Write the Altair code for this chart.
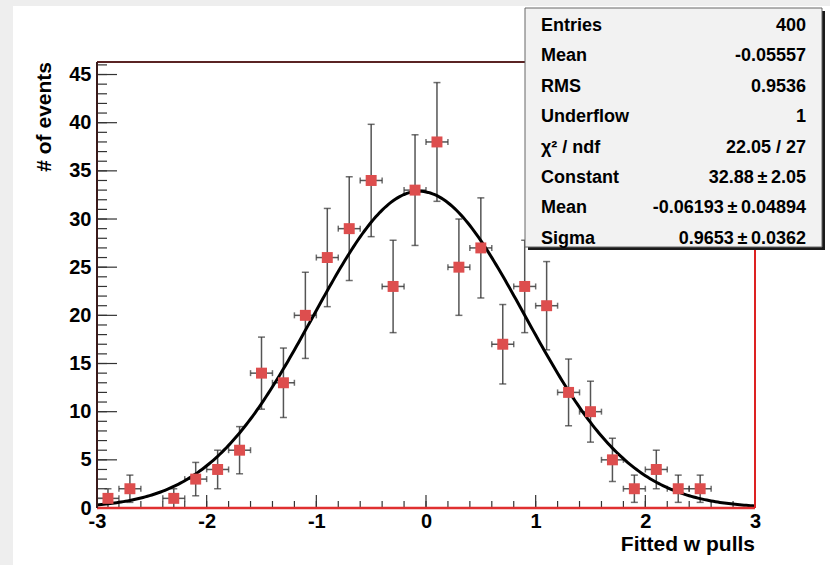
import altair as alt
import pandas as pd
import numpy as np

# ---- data ----
bin_centers = [-2.9, -2.7, -2.3, -2.1, -1.9, -1.7, -1.5, -1.3, -1.1, -0.9, -0.7, -0.5,
               -0.3, -0.1, 0.1, 0.3, 0.5, 0.7, 0.9, 1.1, 1.3, 1.5, 1.7, 1.9, 2.1, 2.3, 2.5]
counts = [1, 2, 1, 3, 4, 6, 14, 13, 20, 26, 29, 34,
          23, 33, 38, 25, 27, 17, 23, 21, 12, 10, 5, 2, 4, 2, 2]
bin_half_width = 0.1

# Gaussian fit parameters (from the stats box)
fit_constant = 32.88
fit_mean = -0.06193
fit_sigma = 0.9653

stat_labels = ["Entries", "Mean", "RMS", "Underflow", "\u03c7\u00b2 / ndf", "Constant", "Mean", "Sigma"]
stat_values = ["400", "-0.05557", "0.9536", "1", "22.05 / 27", "32.88\u2009\u00b1\u20092.05",
               "-0.06193\u2009\u00b1\u20090.04894", "0.9653\u2009\u00b1\u20090.0362"]

x_labels = [-3, -2, -1, 0, 1, 2, 3]
y_labels = [0, 5, 10, 15, 20, 25, 30, 35, 40, 45]
x_minor = [round(-3 + 0.2 * i, 1) for i in range(31)]
y_minor = list(range(0, 47))

# ---- tables ----
pts = pd.DataFrame({"x": bin_centers, "n": counts})
pts["err"] = np.sqrt(pts["n"])
pts["lo"] = pts["n"] - pts["err"]
pts["hi"] = pts["n"] + pts["err"]
pts["xl"] = pts["x"] - bin_half_width
pts["xr"] = pts["x"] + bin_half_width

xs = np.linspace(-3, 3, 301)
curve = pd.DataFrame({"x": xs, "y": fit_constant * np.exp(-0.5 * ((xs - fit_mean) / fit_sigma) ** 2)})

W, H = 658, 446
FONT = "Liberation Sans"

xscale = alt.Scale(domain=[-3, 3], nice=False, zero=False)
yscale = alt.Scale(domain=[0, 46.3], nice=False, zero=False)
xaxis = alt.Axis(values=x_labels, ticks=False, domain=False, grid=False, labelFontSize=20,
                 labelFontWeight="bold", labelPadding=3, labelColor="black", labelFont=FONT,
                 labelFlush=False, labelOverlap=False, zindex=5, labelExpr="'' + datum.value")
yaxis = alt.Axis(values=y_labels, ticks=False, domain=False, grid=False, labelFontSize=20,
                 labelFontWeight="bold", labelPadding=6, labelColor="black", labelFont=FONT,
                 labelFlush=False, labelOverlap=False, zindex=5)


def X(f):
    return alt.X(f, scale=xscale, axis=xaxis, title=None)


def Y(f):
    return alt.Y(f, scale=yscale, axis=yaxis, title=None)


one = pd.DataFrame({"a": [0]})

# white page area
page = alt.Chart(one).mark_rect(fill="white").encode(
    x=alt.value(-84), x2=alt.value(733), y=alt.value(-56), y2=alt.value(H + 57))

# tick marks (inward)
xt_major = alt.Chart(pd.DataFrame({"v": x_labels})).mark_rule(color="#333", strokeWidth=1.2).encode(
    x=X("v:Q"), y=alt.value(H), y2=alt.value(H - 13))
xt_minor = alt.Chart(pd.DataFrame({"v": x_minor})).mark_rule(color="#333", strokeWidth=1.2).encode(
    x=X("v:Q"), y=alt.value(H), y2=alt.value(H - 7))
yt_major = alt.Chart(pd.DataFrame({"v": y_labels})).mark_rule(color="#333", strokeWidth=1.2).encode(
    y=Y("v:Q"), x=alt.value(0), x2=alt.value(20))
yt_minor = alt.Chart(pd.DataFrame({"v": y_minor})).mark_rule(color="#333", strokeWidth=1.2).encode(
    y=Y("v:Q"), x=alt.value(0), x2=alt.value(10))

# frame
frame_top = alt.Chart(one).mark_rule(color="#5a2424", strokeWidth=2).encode(
    x=alt.value(0), x2=alt.value(W), y=alt.value(0))
frame_left = alt.Chart(one).mark_rule(color="#3a1a1a", strokeWidth=2).encode(
    x=alt.value(0), y=alt.value(0), y2=alt.value(H))
frame_right = alt.Chart(one).mark_rule(color="#dd2222", strokeWidth=2).encode(
    x=alt.value(W), y=alt.value(0), y2=alt.value(H))
frame_bottom = alt.Chart(one).mark_rule(color="#e03030", strokeWidth=2.5).encode(
    x=alt.value(0), x2=alt.value(W), y=alt.value(H))

# error bars
ebase = alt.Chart(pts)
vbar = ebase.mark_rule(color="#555555", strokeWidth=1.5).encode(x=X("x:Q"), y=Y("lo:Q"), y2="hi:Q")
hbar = ebase.mark_rule(color="#555555", strokeWidth=1.5).encode(y=Y("n:Q"), x=X("xl:Q"), x2="xr:Q")
cap_lo = ebase.mark_tick(color="#333333", thickness=1.5, size=7, orient="horizontal").encode(x=X("x:Q"), y=Y("lo:Q"))
cap_hi = ebase.mark_tick(color="#333333", thickness=1.5, size=7, orient="horizontal").encode(x=X("x:Q"), y=Y("hi:Q"))
cap_l = ebase.mark_tick(color="#333333", thickness=1.5, size=6, orient="vertical").encode(x=X("xl:Q"), y=Y("n:Q"))
cap_r = ebase.mark_tick(color="#333333", thickness=1.5, size=6, orient="vertical").encode(x=X("xr:Q"), y=Y("n:Q"))

fit = alt.Chart(curve).mark_line(color="black", strokeWidth=3).encode(x=X("x:Q"), y=Y("y:Q"))

markers = ebase.mark_square(color="#dd4e4e", opacity=1, size=120).encode(x=X("x:Q"), y=Y("n:Q"))

# stats box
shadow = alt.Chart(one).mark_rect(fill="#1a1a1a").encode(
    x=alt.value(431), x2=alt.value(728), y=alt.value(-51), y2=alt.value(188))
box = alt.Chart(one).mark_rect(fill="#f2f2f2", stroke="#666666", strokeWidth=1).encode(
    x=alt.value(428), x2=alt.value(725), y=alt.value(-54), y2=alt.value(185))

stat_layers = []
row_top, row_step = -36, 30.4
for i, (lab, val) in enumerate(zip(stat_labels, stat_values)):
    yy = row_top + i * row_step
    stat_layers.append(alt.Chart(one).mark_text(
        text=lab, align="left", baseline="middle", font=FONT, fontWeight="bold", fontSize=18,
        color="black").encode(x=alt.value(444), y=alt.value(yy)))
    stat_layers.append(alt.Chart(one).mark_text(
        text=val, align="right", baseline="middle", font=FONT, fontWeight="bold", fontSize=18,
        color="black").encode(x=alt.value(709), y=alt.value(yy)))

# axis titles
xtitle = alt.Chart(one).mark_text(
    text="Fitted w pulls", align="right", baseline="middle", font=FONT, fontWeight="bold",
    fontSize=21, color="black").encode(x=alt.value(W), y=alt.value(H + 37))
ytitle = alt.Chart(one).mark_text(
    text="# of events", align="right", baseline="middle", angle=270, font=FONT, fontWeight="bold",
    fontSize=21, color="black").encode(x=alt.value(-52), y=alt.value(0))

chart = alt.layer(
    page, xt_minor, xt_major, yt_minor, yt_major,
    vbar, hbar, cap_lo, cap_hi, cap_l, cap_r,
    fit, markers,
    frame_bottom, frame_right, frame_top, frame_left,
    shadow, box, *stat_layers, xtitle, ytitle
).properties(
    width=W, height=H,
    background="#eeeeee",
    padding={"left": 97, "top": 62, "right": 75, "bottom": 57},
    autosize=alt.AutoSizeParams(type="none"),
).configure_view(stroke=None)

chart.save("out.html", embed_options={"renderer": "svg", "actions": False})
